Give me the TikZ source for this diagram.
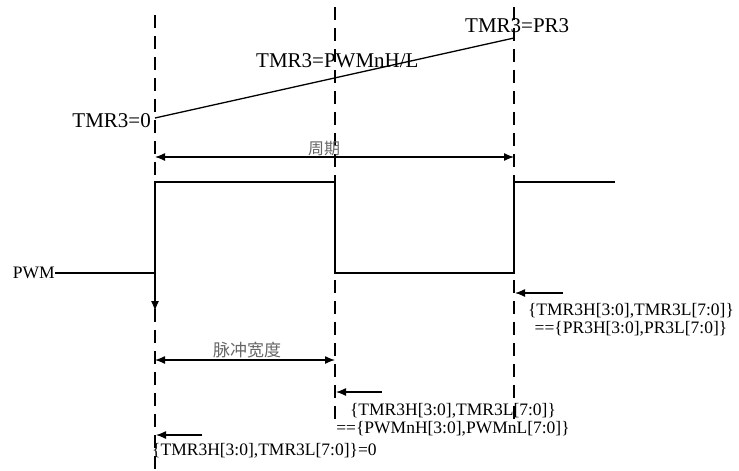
\documentclass[tikz,border=0pt]{standalone}
\usepackage{fontspec}
\setmainfont{Liberation Serif}
\newfontfamily\cjk{Noto Sans CJK SC}
\usetikzlibrary{arrows.meta}

\begin{document}
\begin{tikzpicture}[x=1pt,y=-1pt,
    guide/.style={dash pattern=on 13pt off 8pt,line width=1.4pt},
    wave/.style={line width=1.3pt},
    ptr/.style={line width=1.3pt,-{Latex[length=10pt,width=8pt]}},
    span/.style={line width=1.3pt,{Latex[length=10pt,width=8pt]}-{Latex[length=10pt,width=8pt]}},
    big/.style={font=\fontsize{21}{24}\selectfont,inner sep=0pt},
    small/.style={font=\fontsize{17.5}{18}\selectfont,inner sep=0pt},
    zh/.style={font=\cjk\fontsize{16}{18}\selectfont,text=black!60,inner sep=0pt}]
    \useasboundingbox (0,0) rectangle (739,471);
    \foreach \x/\t/\b in {155/15/471,335/7/422,514/7/420}
    \draw[guide] (\x,\t) -- (\x,\b);
    \coordinate (t0) at (155,118);
    \coordinate (tp) at (514,38);
    \draw[wave] (t0) -- (tp);
    \node[big,anchor=base east] (zero) at (151,127) {TMR3=0};
    \node[big,anchor=base west] (duty) at (256,67) {TMR3=PWMnH/L};
    \node[big,anchor=base west] (full) at (465,32) {TMR3=PR3};
    \draw[span] (155,157) -- (514,157);
    \node[zh,anchor=base] (period) at (324,154) {周期};
    \coordinate (w0) at (55,273);
    \node[small,anchor=east] (pwm) at (w0) {PWM};
    \draw[wave] (w0) -- (155,273) -- (155,182) -- (335,182) -- (335,273)
      -- (514,273) -- (514,182) -- (615,182);
    \draw[ptr] (155,273) -- (155,311);
    \draw[span] (155,360) -- (335,360);
    \node[zh,anchor=base,font=\cjk\fontsize{17}{18}\selectfont] (width) at (247,356) {脉冲宽度};
    \draw[ptr] (563,293) -- (515,293);
    \draw[ptr] (382,392) -- (336,392);
    \draw[ptr] (202,435) -- (156,435);
    \node[small,anchor=base] (pr1) at (631,315) {\{TMR3H[3:0],TMR3L[7:0]\}};
    \node[small,anchor=base] (pr2) at (631,333) {==\{PR3H[3:0],PR3L[7:0]\}};
    \node[small,anchor=base] (pw1) at (453,415) {\{TMR3H[3:0],TMR3L[7:0]\}};
    \node[small,anchor=base] (pw2) at (453,433) {==\{PWMnH[3:0],PWMnL[7:0]\}};
    \node[small,anchor=base west] (clr) at (152,455) {\{TMR3H[3:0],TMR3L[7:0]\}=0};
  \end{tikzpicture}
\end{document}
